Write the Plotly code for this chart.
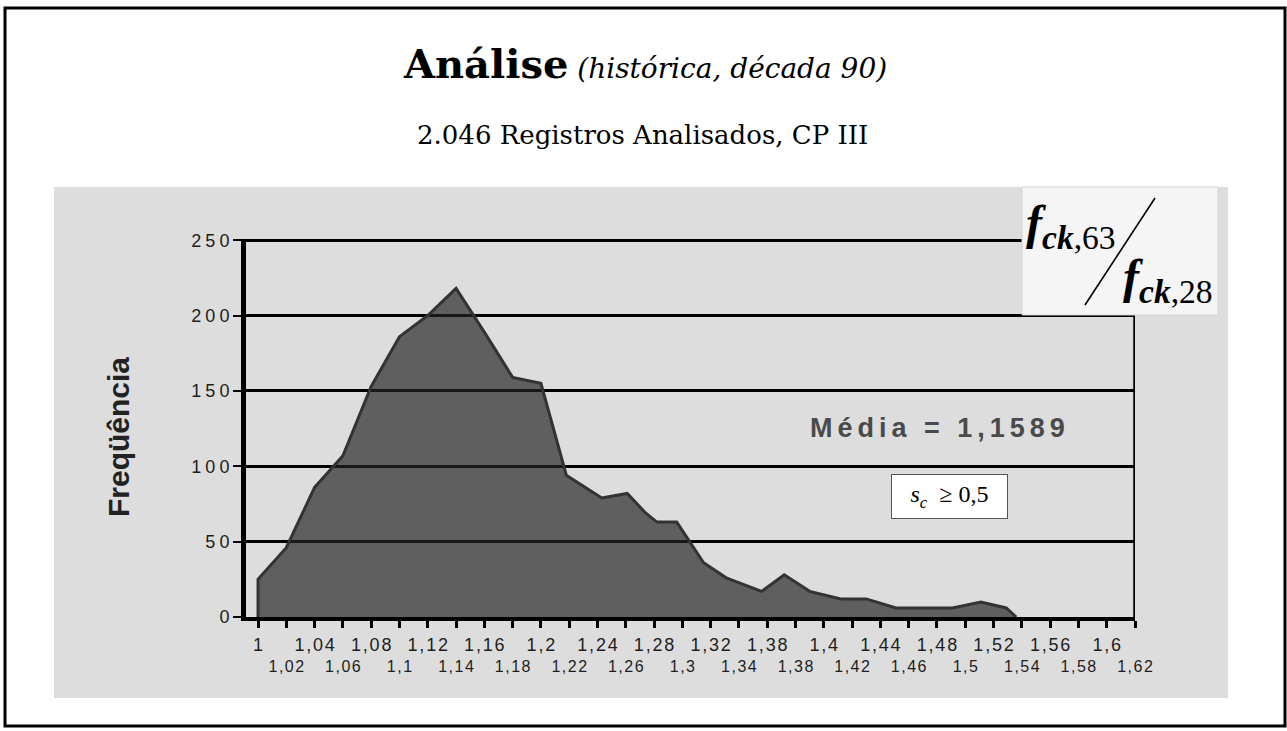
import plotly.graph_objects as go

# ---------------- data ----------------
ratio_x = [1.0, 1.0, 1.02, 1.04, 1.06, 1.08, 1.10, 1.12, 1.14, 1.16, 1.18, 1.20, 1.218,
           1.243, 1.261, 1.274, 1.282, 1.296, 1.315, 1.331, 1.356, 1.372, 1.39,
           1.412, 1.43, 1.451, 1.491, 1.511, 1.529, 1.536]
frequencia = [0, 25, 46, 86, 107, 153, 186, 200, 218, 189, 159, 155, 94,
              79, 82, 69, 63, 63, 36, 26, 17, 28, 17,
              12, 12, 6, 6, 10, 6, 0]

x_ticks_top = ["1", "1,04", "1,08", "1,12", "1,16", "1,2", "1,24", "1,28", "1,32",
               "1,38", "1,4", "1,44", "1,48", "1,52", "1,56", "1,6"]
x_ticks_bottom = ["1,02", "1,06", "1,1", "1,14", "1,18", "1,22", "1,26", "1,3", "1,34",
                  "1,38", "1,42", "1,46", "1,5", "1,54", "1,58", "1,62"]
y_ticks = [0, 50, 100, 150, 200, 250]

title_main = "Análise"
title_sub_italic = "(histórica, década 90)"
subtitle = "2.046 Registros Analisados, CP III"
y_title = "Freqüência"
media_text = "Média = 1,1589"

# ---------------- layout helpers ----------------
W, H = 1287, 731
L, R, T, B = 246, 1135, 239, 617


def px_x(p):
    return (p - L) / (R - L)


def px_y(p):
    return (B - p) / (B - T)


def sp(t, s):
    # letter spacing between characters (not after the last one)
    if len(t) < 2:
        return t
    return f"<span style='letter-spacing:{s}px'>{t[:-1]}</span>{t[-1]}"


top_vals = [round(1 + 0.04 * i, 2) for i in range(len(x_ticks_top))]
bot_vals = [round(1.02 + 0.04 * i, 2) for i in range(len(x_ticks_bottom))]

fig = go.Figure()
fig.add_trace(go.Scatter(
    x=ratio_x, y=frequencia, mode="lines", fill="tozeroy",
    line=dict(color="#333333", width=3),
    fillcolor="rgba(35,35,35,0.68)", hoverinfo="x+y", showlegend=False,
))
# invisible trace for the second label row axis
fig.add_trace(go.Scatter(x=[1.0], y=[0], xaxis="x2", mode="markers",
                         marker=dict(opacity=0), showlegend=False, hoverinfo="skip"))

fig.update_layout(
    width=W, height=H, autosize=False,
    margin=dict(l=L, r=W - R, t=T, b=H - B, pad=0),
    paper_bgcolor="white", plot_bgcolor="rgba(0,0,0,0)",
    font=dict(family="Liberation Sans, Arial, sans-serif", color="#222222"),
    xaxis=dict(
        range=[0.9915, 1.62], tickmode="array", tickvals=top_vals,
        ticktext=[sp(t, 1.8) for t in x_ticks_top],
        ticks="outside", ticklen=7, tickwidth=3, tickcolor="black",
        minor=dict(tickmode="array", tickvals=bot_vals, ticks="outside",
                   ticklen=7, tickwidth=3, tickcolor="black", showgrid=False),
        showline=True, linewidth=4, linecolor="black", showgrid=False, zeroline=False,
        tickfont=dict(size=18, color="#1e1e1e"), ticklabelstandoff=1,
    ),
    xaxis2=dict(
        range=[0.9915, 1.62], overlaying="x", anchor="y", side="bottom",
        tickmode="array", tickvals=bot_vals,
        ticktext=[sp(t, 1.5) for t in x_ticks_bottom],
        ticks="", showline=False, showgrid=False, zeroline=False,
        tickfont=dict(size=16, color="#1e1e1e"), ticklabelstandoff=38,
    ),
    yaxis=dict(
        range=[0, 250.8], tickmode="array", tickvals=y_ticks,
        ticktext=[sp(str(v), 4) for v in y_ticks],
        ticks="outside", ticklen=8, tickwidth=2, tickcolor="black",
        showline=True, linewidth=5, linecolor="black",
        showgrid=True, gridcolor="black", gridwidth=2.5, zeroline=False,
        tickfont=dict(size=18, color="#1e1e1e"), ticklabelstandoff=0,
    ),
)

shapes = [
    # gray chart panel
    dict(type="rect", xref="paper", yref="paper", layer="below",
         x0=px_x(54), x1=px_x(1228), y0=px_y(698), y1=px_y(187),
         fillcolor="#dddddd", line=dict(width=0)),
    # right border line of the plot
    dict(type="line", xref="x", yref="y", x0=1.62, x1=1.62, y0=0, y1=250,
         line=dict(color="black", width=3.5), layer="above"),
    # formula box
    dict(type="rect", xref="paper", yref="paper", layer="above",
         x0=px_x(1022), x1=px_x(1218), y0=px_y(315), y1=px_y(187),
         fillcolor="#f5f5f5", line=dict(color="#d4d4d4", width=1)),
    # slash of the ratio
    dict(type="line", xref="paper", yref="paper", layer="above",
         x0=px_x(1155), y0=px_y(198), x1=px_x(1085), y1=px_y(305),
         line=dict(color="black", width=1.6)),
    # outer frame
    dict(type="rect", xref="paper", yref="paper", layer="above",
         x0=px_x(5), x1=px_x(1285), y0=px_y(726), y1=px_y(8),
         fillcolor="rgba(0,0,0,0)", line=dict(color="black", width=3)),
]
fig.update_layout(shapes=shapes)

serif = "DejaVu Serif, Georgia, serif"
tserif = "Liberation Serif, Times New Roman, serif"
annotations = [
    dict(text=(f"<span style='font-size:40px'><b>{title_main}</b></span> "
               f"<span style='font-size:28px'><i>{title_sub_italic}</i></span>"),
         x=px_x(645), y=px_y(63), xref="paper", yref="paper",
         xanchor="center", yanchor="middle", showarrow=False,
         font=dict(family=serif, size=28, color="black")),
    dict(text=subtitle, x=px_x(642), y=px_y(135), xref="paper", yref="paper",
         xanchor="center", yanchor="middle", showarrow=False,
         font=dict(family=serif, size=26, color="black")),
    dict(text=f"<b>{y_title}</b>", x=px_x(118), y=px_y(437), xref="paper", yref="paper",
         xanchor="center", yanchor="middle", showarrow=False, textangle=-90,
         font=dict(family="Liberation Sans Narrow, Arial Narrow, Liberation Sans, sans-serif",
                   size=30, color="#222222")),
    dict(text=f"<b>{sp(media_text, 5)}</b>", x=px_x(937), y=px_y(428),
         xref="paper", yref="paper", xanchor="center", yanchor="middle", showarrow=False,
         font=dict(family="Liberation Sans, Arial, sans-serif", size=27, color="#4a4a4a")),
    dict(text="<i>s<sub>c</sub></i>  ≥ 0,5", x=px_x(949.5), y=px_y(496.5),
         xref="paper", yref="paper", xanchor="center", yanchor="middle", showarrow=False,
         width=113, height=41, bgcolor="white", bordercolor="#555555", borderwidth=1,
         font=dict(family=tserif, size=24, color="black")),
    dict(text="<b><i>f</i></b><sub><b><i>ck</i></b>,63</sub>", x=px_x(1071), y=px_y(226),
         xref="paper", yref="paper", xanchor="center", yanchor="middle", showarrow=False,
         font=dict(family=tserif, size=48, color="black")),
    dict(text="<b><i>f</i></b><sub><b><i>ck</i></b>,28</sub>", x=px_x(1168), y=px_y(280),
         xref="paper", yref="paper", xanchor="center", yanchor="middle", showarrow=False,
         font=dict(family=tserif, size=48, color="black")),
]
fig.update_layout(annotations=annotations)

fig.write_html("out.html", config={"displayModeBar": False},
               post_script="document.body.style.margin='0';")
